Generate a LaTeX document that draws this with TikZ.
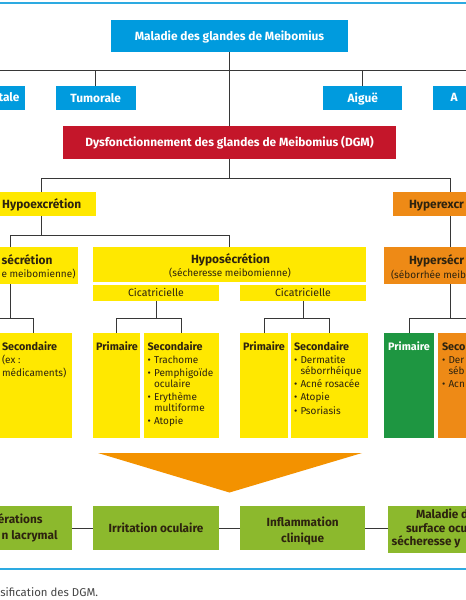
\documentclass[tikz,border=0pt]{standalone}
\usepackage{fontspec}
\setmainfont{Fira Sans}
\definecolor{cblue}{RGB}{0,155,222}
\definecolor{crule}{RGB}{45,170,225}
\definecolor{cred}{RGB}{196,22,42}
\definecolor{cyel}{RGB}{255,232,0}
\definecolor{corange}{RGB}{238,138,22}
\definecolor{ctri}{RGB}{243,146,0}
\definecolor{cgreen}{RGB}{30,150,65}
\definecolor{colive}{RGB}{140,185,45}
\definecolor{cline}{RGB}{55,55,55}
\definecolor{ctext}{RGB}{45,35,15}
\definecolor{ccap}{RGB}{70,70,70}
\begin{document}
\begin{tikzpicture}[x=1pt,y=-1pt,
  box/.style={rectangle, inner sep=0pt, outer sep=0pt, draw=none},
  fb/.style={font=\bfseries\fontsize{11.9}{14}\selectfont, text height=8.8pt, text depth=0.5pt},
  fr/.style={font=\fontsize{10.5}{12}\selectfont, text height=7.8pt, text depth=0.5pt},
  bluebox/.style={box, fill=cblue, text=white, fb},
  redbox/.style={box, fill=cred, text=white, fb},
  yelbox/.style={box, fill=cyel, text=ctext, fb},
  orgbox/.style={box, fill=corange, text=ctext, fb},
  grnbox/.style={box, fill=cgreen},
  olvbox/.style={box, fill=colive, text=ctext, font=\bfseries\fontsize{11.8}{14}\selectfont, text height=8.6pt, text depth=0.5pt},
  tx/.style={inner sep=0pt, outer sep=0pt, text=ctext},
  tb/.style={tx, font=\bfseries\fontsize{11.9}{14}\selectfont},
  tbs/.style={tx, font=\bfseries\fontsize{10.8}{13}\selectfont},
  tgs/.style={tx, font=\bfseries\fontsize{11.8}{14}\selectfont},
  trs/.style={tx, font=\fontsize{10}{12}\selectfont},
  conn/.style={draw=cline, line width=1pt},
  rulebl/.style={draw=crule, line width=1.6pt}
]
\useasboundingbox (0,0) rectangle (466,600);
\fill[white] (0,0) rectangle (466,600);
\clip (0,0) rectangle (466,600);

% rules
\draw[rulebl] (0,3) -- (466,3);
\draw[rulebl] (0,569) -- (466,569);

% level 1
\node[bluebox, minimum width=237pt, minimum height=32pt] (mgd) at (229.5,36) {Maladie des glandes de Meibomius};
\node[bluebox, minimum width=85pt, minimum height=24pt] (cong) at (-17.5,98) {};
\node[tb, text=white, anchor=base east] (congt) at (19.5,101.8) {tale};
\node[bluebox, minimum width=80pt, minimum height=24pt] (tum) at (95.7,98) {Tumorale};
\node[bluebox, minimum width=79pt, minimum height=24pt] (aig) at (362.8,98) {Aiguë};
\node[bluebox, minimum width=87pt, minimum height=24pt] (acq) at (476.5,98) {};
\node[tb, text=white, anchor=base west] (acqt) at (450.7,101.8) {A};

\coordinate (L1l) at (-40,70);
\coordinate (L1r) at (520,70);
\draw[conn] (L1l) -- (L1r);
\foreach \n in {cong,tum,aig,acq} \draw[conn] (\n.north) -- (\n.north |- L1l);

% DGM
\node[redbox, minimum width=333pt, minimum height=33pt] (dgm) at (229.5,142.5) {Dysfonctionnement des glandes de Meibomius (DGM)};
\draw[conn] (mgd.south) -- (dgm.north);

\node[yelbox, minimum width=108pt, minimum height=24pt] (hypoex) at (41.7,204) {Hypoexcrétion};
\node[orgbox, minimum width=115pt, minimum height=24pt] (hyperex) at (450.7,204) {};
\node[tb, anchor=base west] (hyperext) at (409,208.5) {Hyperexcr};
\coordinate (L2) at (0,178);
\draw[conn] (dgm.south) -- (dgm.south |- L2);
\draw[conn] (hypoex.north) -- (hypoex.north |- L2) -- (hyperex.north |- L2) -- (hyperex.north);

% level 3
\node[box, fill=cyel, minimum width=136pt, minimum height=37pt] (hypoL) at (10,265.5) {};
\node[tb, anchor=base east] (hypoLa) at (52.5,264.3) {sécrétion};
\node[trs, anchor=base east] (hypoLb) at (75.5,277.5) {e meibomienne)};
\node[box, fill=cyel, minimum width=273pt, minimum height=35pt] (hypoM) at (229.5,264.5) {};
\node[tb, anchor=base] (hypoMa) at (230.5,263.3) {Hyposécrétion};
\node[trs, anchor=base] (hypoMb) at (230,276.5) {(sécheresse meibomienne)};
\node[box, fill=corange, minimum width=133pt, minimum height=37pt] (hyperS) at (450.7,265.5) {};
\node[tb, anchor=base west] (hyperSa) at (409,264.6) {Hypersécr};
\node[trs, anchor=base west] (hyperSb) at (391,278) {(séborrhée meib};

\coordinate (L3) at (0,235.5);
\draw[conn] (hypoex.south) -- (hypoex.south |- L3);
\draw[conn] (hypoL.north) -- (hypoL.north |- L3) -- (hypoM.north |- L3) -- (hypoM.north);
\draw[conn] (hyperex.south) -- (hyperS.north);

\node[box, fill=cyel, text=ctext, fr, minimum width=126pt, minimum height=16pt] (cic1) at (156,293) {Cicatricielle};
\node[box, fill=cyel, text=ctext, fr, minimum width=126pt, minimum height=16pt] (cic2) at (303,293) {Cicatricielle};

% level 4 boxes
\node[box, fill=cyel, minimum width=77pt, minimum height=105pt] (secL) at (33.5,385.5) {};
\node[box, fill=cyel, minimum width=47pt, minimum height=105pt] (prim1) at (116.5,385.5) {};
\node[box, fill=cyel, minimum width=75pt, minimum height=105pt] (sec1) at (181.5,385.5) {};
\node[box, fill=cyel, minimum width=48pt, minimum height=105pt] (prim2) at (264,385.5) {};
\node[box, fill=cyel, minimum width=77pt, minimum height=105pt] (sec2) at (329.5,385.5) {};
\node[grnbox, minimum width=50pt, minimum height=105pt] (primG) at (409,385.5) {};
\node[box, fill=corange, minimum width=64pt, minimum height=105pt] (secO) at (470,385.5) {};

\coordinate (L4) at (0,318);
\coordinate (primLx) at (-14,318);
\draw[conn] (hypoL.south) -- (hypoL.south |- L4);
\draw[conn] (primLx) -- (secL.north |- L4) -- (secL.north);
\draw[conn] (cic1.south) -- (cic1.south |- L4);
\draw[conn] (prim1.north) -- (prim1.north |- L4) -- (sec1.north |- L4) -- (sec1.north);
\draw[conn] (cic2.south) -- (cic2.south |- L4);
\draw[conn] (prim2.north) -- (prim2.north |- L4) -- (sec2.north |- L4) -- (sec2.north);
\draw[conn] (hyperS.south) -- (hyperS.south |- L4);
\draw[conn] (primG.north) -- (primG.north |- L4) -- (secO.north |- L4) -- (secO.north);

% texts level 4
\node[tbs, anchor=base west] (secLa) at (2,350.3) {Secondaire};
\node[trs, anchor=base west] (secLb) at (2,363.3) {(ex :};
\node[trs, anchor=base west] (secLc) at (2,376.6) {médicaments)};

\node[tbs, anchor=base] (prim1t) at (117,350.3) {Primaire};
\node[tbs, anchor=base west] (s1a) at (147.5,350.3) {Secondaire};
\node[trs, anchor=base west] (s1b) at (147.5,363.3) {\makebox[6.5pt][l]{•}Trachome};
\node[trs, anchor=base west] (s1c) at (147.5,376.6) {\makebox[6.5pt][l]{•}Pemphigoïde};
\node[trs, anchor=base west] (s1d) at (154,387.3) {oculaire};
\node[trs, anchor=base west] (s1e) at (147.5,400.6) {\makebox[6.5pt][l]{•}Erythème};
\node[trs, anchor=base west] (s1f) at (154,411.3) {multiforme};
\node[trs, anchor=base west] (s1g) at (147.5,424.3) {\makebox[6.5pt][l]{•}Atopie};

\node[tbs, anchor=base] (prim2t) at (264,350.3) {Primaire};
\node[tbs, anchor=base west] (s2a) at (294,350.3) {Secondaire};
\node[trs, anchor=base west] (s2b) at (294,363.3) {\makebox[6.5pt][l]{•}Dermatite};
\node[trs, anchor=base west] (s2c) at (300.5,374.3) {séborrhéique};
\node[trs, anchor=base west] (s2d) at (294,387.3) {\makebox[6.5pt][l]{•}Acné rosacée};
\node[trs, anchor=base west] (s2e) at (294,400.3) {\makebox[6.5pt][l]{•}Atopie};
\node[trs, anchor=base west] (s2f) at (294,414) {\makebox[6.5pt][l]{•}Psoriasis};

\node[tbs, text=white, anchor=base] (primGt) at (409,350.3) {Primaire};
\node[tbs, anchor=base west] (sOa) at (442,350.3) {Seco};
\node[trs, anchor=base west] (sOb) at (442,363.3) {\makebox[6.5pt][l]{•}Der};
\node[trs, anchor=base west] (sOc) at (448.5,374.3) {séb};
\node[trs, anchor=base west] (sOd) at (442,387.3) {\makebox[6.5pt][l]{•}Acn};

% triangle
\fill[ctri] (98,453) -- (362,453) -- (229.5,492.5) -- cycle;

% bottom row
\node[box, fill=colive, minimum width=82pt, minimum height=44pt] (g1) at (31,528) {};
\node[tgs, anchor=base east] (g1a) at (42.5,523.8) {érations};
\node[tgs, anchor=base east] (g1b) at (57.5,539) {n lacrymal};
\node[olvbox, minimum width=126pt, minimum height=44pt] (g2) at (156,528) {Irritation oculaire};
\node[box, fill=colive, minimum width=125pt, minimum height=44pt] (g3) at (302.7,528) {};
\node[tgs, anchor=base] (g3a) at (302.7,526.5) {Inflammation};
\node[tgs, anchor=base] (g3b) at (302.7,542.5) {clinique};
\node[box, fill=colive, minimum width=104pt, minimum height=47pt] (g4) at (440,529.5) {};
\node[tgs, anchor=base west] (g4a) at (416,518.8) {Maladie d};
\node[tgs, anchor=base west] (g4b) at (406,532.5) {surface ocu};
\node[tgs, anchor=base west] (g4c) at (391.7,545.2) {sécheresse y};

\draw[conn] (g1.east) -- (g2.west);
\draw[conn] (g2.east) -- (g3.west);
\draw[conn] (g3.east) -- (g3.east -| g4.west);

% caption
\node[tx, text=ccap, font=\fontsize{11.4}{13}\selectfont, anchor=base west] (cap) at (0.3,596.5) {sification des DGM.};
\end{tikzpicture}
\end{document}
